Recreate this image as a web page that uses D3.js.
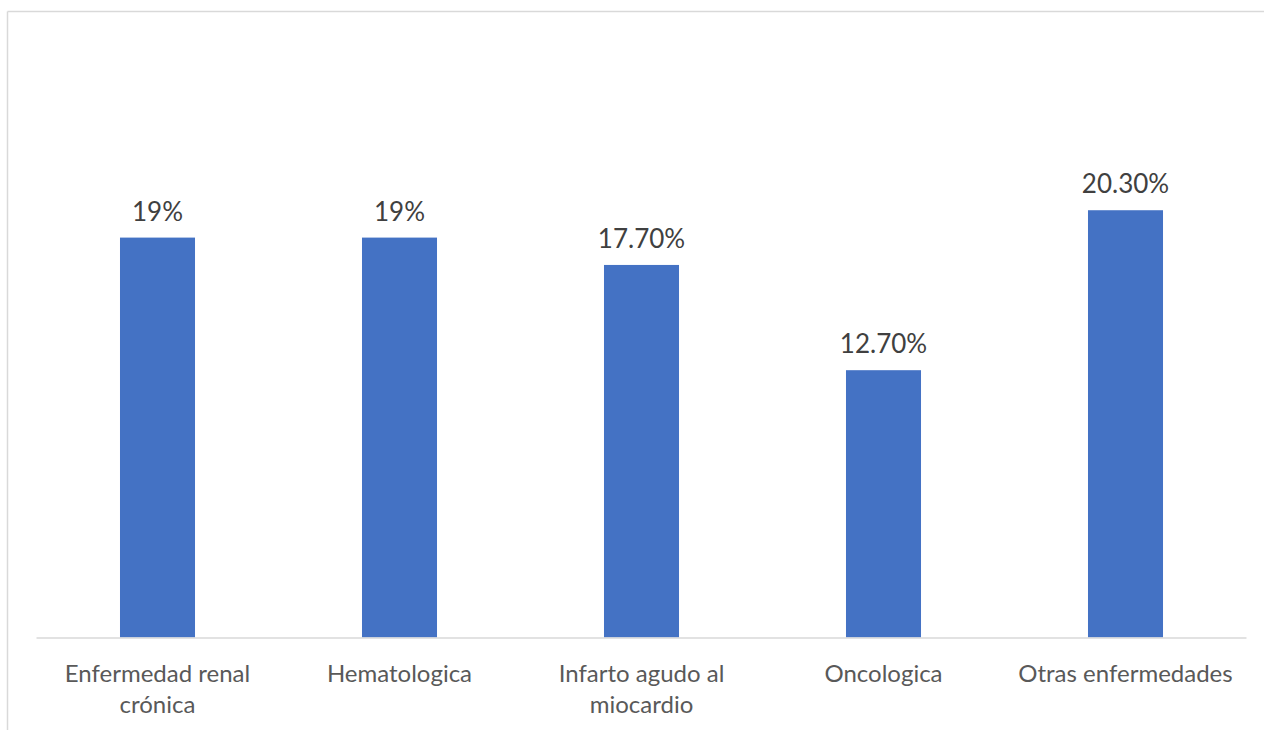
<!DOCTYPE html>
<html>
<head>
<meta charset="utf-8">
<script src="https://cdn.jsdelivr.net/npm/d3@7"></script>
<style>
  html, body { margin: 0; padding: 0; background: #fff; }
  svg { display: block; font-family: Lato, "Open Sans", sans-serif; }
</style>
</head>
<body>
<svg id="chart" width="1264" height="730"></svg>
<script>
// Categories and percentage values
const categories = [
  "Enfermedad renal crónica",
  "Hematologica",
  "Infarto agudo al miocardio",
  "Oncologica",
  "Otras enfermedades"
];
const values = [19, 19, 17.7, 12.7, 20.3];
const valueLabels = ["19%", "19%", "17.70%", "12.70%", "20.30%"];

const svg = d3.select("#chart");
const W = 1264, H = 730;

// Chart frame (left and top edges)
svg.append("line").attr("x1", 7.5).attr("x2", 7.5).attr("y1", 11.5).attr("y2", H)
  .attr("stroke", "#d9d9d9").attr("stroke-width", 1.5);
svg.append("line").attr("x1", 7.5).attr("x2", W).attr("y1", 11.5).attr("y2", 11.5)
  .attr("stroke", "#d9d9d9").attr("stroke-width", 1.5);

const x = d3.scaleBand()
  .domain(categories)
  .range([36.5, 1246.5])
  .paddingInner(0.69)
  .paddingOuter(0.345);

const y = d3.scaleLinear().domain([0, 25]).range([637.5, 111.3]);

// Bars
svg.append("g").selectAll("rect")
  .data(categories)
  .join("rect")
  .attr("x", d => x(d))
  .attr("y", (d, i) => y(values[i]))
  .attr("width", x.bandwidth())
  .attr("height", (d, i) => y(0) - y(values[i]))
  .attr("fill", "#4472c4");

// Baseline axis
const axis = d3.axisBottom(x).tickSize(0).tickFormat("");
const gAxis = svg.append("g").attr("transform", `translate(0,${y(0) + 0.5})`).call(axis);
gAxis.select(".domain").attr("stroke", "#d9d9d9").attr("stroke-width", 1.5)
  .attr("d", "M36.5,0H1246.5");

// Value labels
svg.append("g").selectAll("text")
  .data(categories)
  .join("text")
  .attr("x", d => x(d) + x.bandwidth() / 2)
  .attr("y", (d, i) => y(values[i]) - 17)
  .attr("text-anchor", "middle")
  .attr("font-size", 26)
  .attr("fill", "#404040")
  .text((d, i) => valueLabels[i]);

// Category labels, wrapped to the band step
const step = x.step();
const labels = svg.append("g").selectAll("text")
  .data(categories)
  .join("text")
  .attr("x", d => x(d) + x.bandwidth() / 2)
  .attr("y", 682)
  .attr("text-anchor", "middle")
  .attr("font-size", 24)
  .attr("fill", "#595959");

labels.each(function(d) {
  const t = d3.select(this);
  const cx = +t.attr("x");
  const words = d.split(" ");
  let line = [];
  let tspan = t.append("tspan").attr("x", cx).attr("dy", 0);
  words.forEach(w => {
    line.push(w);
    tspan.text(line.join(" "));
    if (tspan.node().getComputedTextLength() > step - 10 && line.length > 1) {
      line.pop();
      tspan.text(line.join(" "));
      line = [w];
      tspan = t.append("tspan").attr("x", cx).attr("dy", 31).text(w);
    }
  });
});
</script>
</body>
</html>
